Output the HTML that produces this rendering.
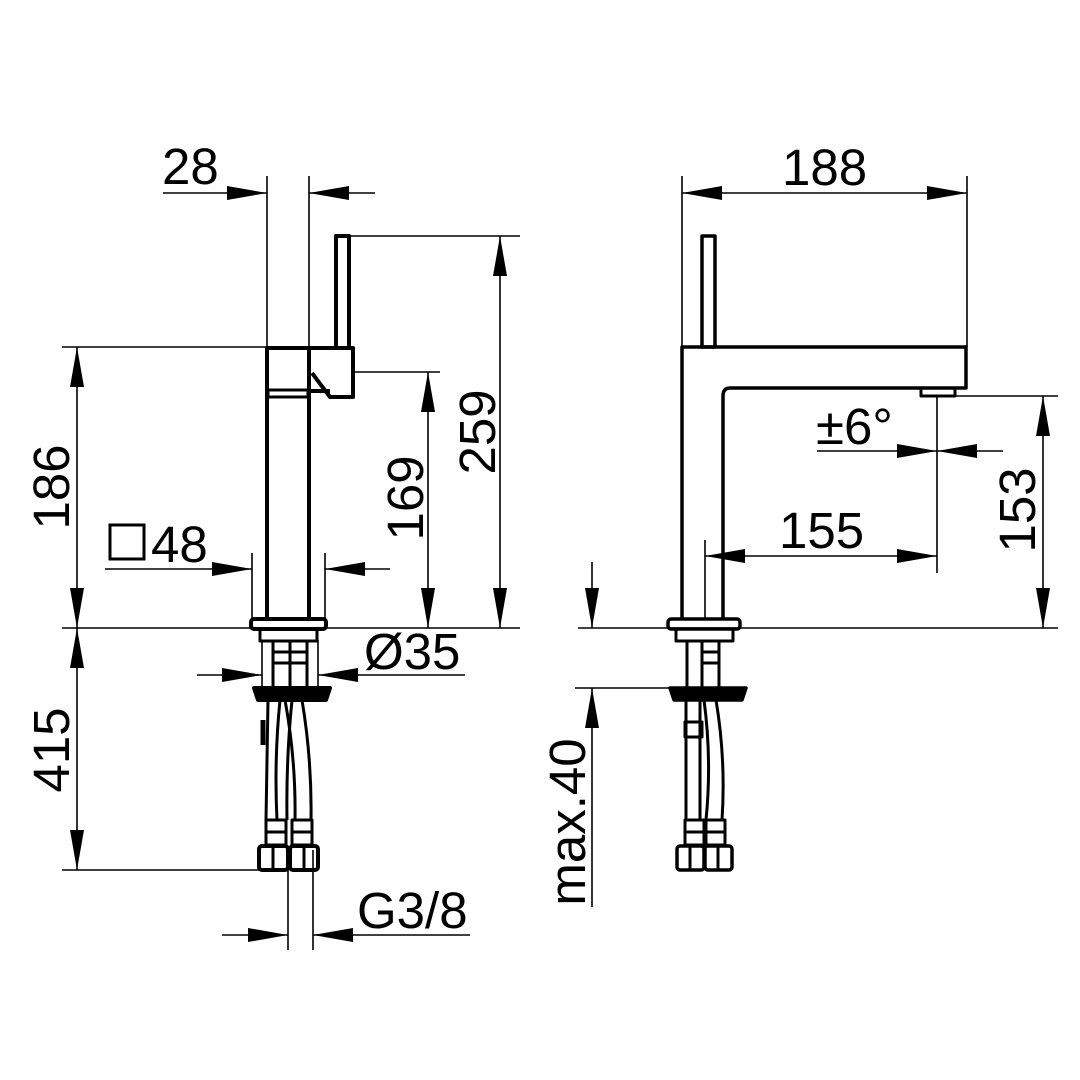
<!DOCTYPE html>
<html><head><meta charset="utf-8"><style>
html,body{margin:0;padding:0;background:#fff}
svg{display:block}
text{font-family:"Liberation Sans",Arial,sans-serif;font-size:51px;fill:#000}
</style></head><body>
<svg width="1080" height="1080" viewBox="0 0 1080 1080" xmlns="http://www.w3.org/2000/svg">
<defs>
<marker id="a" markerUnits="userSpaceOnUse" markerWidth="40" markerHeight="14" refX="40" refY="7" orient="auto">
<path d="M0,0 L40,7 L0,14 z" fill="#000"/>
</marker>
</defs>
<g stroke="#000" stroke-width="1.6" fill="none">
<line x1="267" y1="176" x2="267" y2="347"/>
<line x1="309" y1="176" x2="309" y2="347"/>
<line x1="163" y1="193" x2="267" y2="193" marker-end="url(#a)"/>
<line x1="375" y1="193" x2="309" y2="193" marker-end="url(#a)"/>
<line x1="350" y1="236" x2="520" y2="236"/>
<line x1="500" y1="432" x2="500" y2="236" marker-end="url(#a)"/>
<line x1="500" y1="432" x2="500" y2="628" marker-end="url(#a)"/>
<line x1="62" y1="347" x2="267" y2="347"/>
<line x1="77" y1="487" x2="77" y2="347" marker-end="url(#a)"/>
<line x1="77" y1="487" x2="77" y2="628" marker-end="url(#a)"/>
<line x1="353" y1="372" x2="440" y2="372"/>
<line x1="428" y1="500" x2="428" y2="372" marker-end="url(#a)"/>
<line x1="428" y1="500" x2="428" y2="628" marker-end="url(#a)"/>
<line x1="252" y1="553" x2="252" y2="620"/>
<line x1="325" y1="553" x2="325" y2="620"/>
<line x1="105" y1="569" x2="252" y2="569" marker-end="url(#a)"/>
<line x1="390" y1="569" x2="325" y2="569" marker-end="url(#a)"/>
<line x1="62" y1="628" x2="520" y2="628"/>
<line x1="262" y1="640" x2="262" y2="690"/>
<line x1="318" y1="640" x2="318" y2="690"/>
<line x1="197" y1="675" x2="262" y2="675" marker-end="url(#a)"/>
<line x1="465" y1="675" x2="318" y2="675" marker-end="url(#a)"/>
<line x1="77" y1="750" x2="77" y2="628" marker-end="url(#a)"/>
<line x1="77" y1="750" x2="77" y2="870" marker-end="url(#a)"/>
<line x1="62" y1="870" x2="262" y2="870"/>
<line x1="288" y1="850" x2="288" y2="950"/>
<line x1="313" y1="850" x2="313" y2="950"/>
<line x1="222" y1="935" x2="288" y2="935" marker-end="url(#a)"/>
<line x1="470" y1="935" x2="313" y2="935" marker-end="url(#a)"/>
<line x1="682" y1="176" x2="682" y2="347"/>
<line x1="967" y1="176" x2="967" y2="347"/>
<line x1="825" y1="193" x2="682" y2="193" marker-end="url(#a)"/>
<line x1="825" y1="193" x2="967" y2="193" marker-end="url(#a)"/>
<line x1="955" y1="396" x2="1058" y2="396"/>
<line x1="1043" y1="510" x2="1043" y2="396" marker-end="url(#a)"/>
<line x1="1043" y1="510" x2="1043" y2="628" marker-end="url(#a)"/>
<line x1="937" y1="396" x2="937" y2="573"/>
<line x1="817" y1="451" x2="937" y2="451" marker-end="url(#a)"/>
<line x1="1003" y1="451" x2="937" y2="451" marker-end="url(#a)"/>
<line x1="705" y1="540" x2="705" y2="620"/>
<line x1="820" y1="556" x2="705" y2="556" marker-end="url(#a)"/>
<line x1="820" y1="556" x2="937" y2="556" marker-end="url(#a)"/>
<line x1="578" y1="628" x2="1058" y2="628"/>
<line x1="575" y1="688" x2="672" y2="688"/>
<line x1="592" y1="562" x2="592" y2="628" marker-end="url(#a)"/>
<line x1="592" y1="907" x2="592" y2="688" marker-end="url(#a)"/>
</g>

<g stroke="#000" stroke-width="4" fill="none" stroke-linejoin="round">
<rect x="336" y="236" width="13" height="112"/>
<line x1="267" y1="347" x2="267" y2="620"/>
<line x1="309" y1="347" x2="309" y2="620"/>
<line x1="267" y1="348" x2="353" y2="348"/>
<path d="M310,348 L353,348 L353,397 L330,397 L312,373"/>
<line x1="310" y1="391" x2="330" y2="391"/>
<rect x="268" y="390" width="40" height="7" stroke-width="3"/>
<rect x="251" y="619" width="75" height="10" rx="3"/>
<rect x="260" y="629" width="57" height="12" stroke-width="3"/>
<line x1="273" y1="641" x2="273" y2="688" stroke-width="3"/>
<line x1="290" y1="641" x2="290" y2="688" stroke-width="3"/>
<line x1="307" y1="641" x2="307" y2="688" stroke-width="3"/>
<line x1="273" y1="652" x2="307" y2="652" stroke-width="3"/>
<line x1="273" y1="663" x2="307" y2="663" stroke-width="3"/>
<path d="M254,688 L330,688 L326,700 L258,700 Z" fill="#000"/>
<path d="M268,700 L266,820 M280,700 Q274,760 277,820 M285,700 Q296,760 295,820 M292,700 Q286,760 287,820 M302,700 Q312,760 311,820" stroke-width="3"/>
<path d="M263,720 L263,745" stroke-width="5"/>
<rect x="266" y="820" width="20" height="25" stroke-width="3"/>
<rect x="292" y="820" width="20" height="25" stroke-width="3"/>
<line x1="266" y1="832" x2="286" y2="832" stroke-width="3"/>
<line x1="292" y1="832" x2="312" y2="832" stroke-width="3"/>
<rect x="259" y="846" width="29" height="24" rx="3"/>
<rect x="290" y="846" width="28" height="24" rx="3"/>
<line x1="273" y1="846" x2="273" y2="870" stroke-width="3"/>
<line x1="304" y1="846" x2="304" y2="870" stroke-width="3"/>
</g>

<g stroke="#000" stroke-width="3.5" fill="none" stroke-linejoin="round">
<rect x="702" y="236" width="13" height="111"/>
<path d="M682,620 L682,347 L966,347 L966,388 L730,388 Q723,388 723,396 L723,620"/>
<rect x="921" y="388" width="34" height="8" stroke-width="3"/>
<rect x="668" y="619" width="72" height="10" rx="3"/>
<rect x="676" y="629" width="57" height="12" stroke-width="3"/>
<line x1="687" y1="641" x2="687" y2="688" stroke-width="3"/>
<line x1="702" y1="641" x2="702" y2="688" stroke-width="3"/>
<line x1="719" y1="641" x2="719" y2="688" stroke-width="3"/>
<line x1="702" y1="652" x2="719" y2="652" stroke-width="3"/>
<line x1="702" y1="663" x2="719" y2="663" stroke-width="3"/>
<path d="M670,688 L746,688 L742,700 L674,700 Z" fill="#000"/>
<rect x="685" y="722" width="17" height="15" stroke-width="3"/>
<path d="M686,700 L686,820 M700,700 L700,820 M704,700 Q712,760 706,820 M716,700 Q726,760 722,820" stroke-width="3"/>
<rect x="685" y="820" width="19" height="25" stroke-width="3"/>
<rect x="706" y="820" width="19" height="25" stroke-width="3"/>
<line x1="685" y1="832" x2="704" y2="832" stroke-width="3"/>
<line x1="706" y1="832" x2="725" y2="832" stroke-width="3"/>
<rect x="677" y="846" width="27" height="24" rx="3"/>
<rect x="705" y="846" width="27" height="24" rx="3"/>
<line x1="690" y1="846" x2="690" y2="870" stroke-width="3"/>
<line x1="718" y1="846" x2="718" y2="870" stroke-width="3"/>
</g>

<text x="162" y="184">28</text>
<text x="782" y="185">188</text>
<text transform="translate(495,432) rotate(-90)" text-anchor="middle">259</text>
<text transform="translate(69,487) rotate(-90)" text-anchor="middle">186</text>
<text transform="translate(423,498) rotate(-90)" text-anchor="middle">169</text>
<text transform="translate(69,750) rotate(-90)" text-anchor="middle">415</text>
<text transform="translate(1035,510) rotate(-90)" text-anchor="middle">153</text>
<text transform="translate(585,822) rotate(-90)" text-anchor="middle">max.40</text>
<rect x="110" y="525" width="34" height="34" fill="none" stroke="#000" stroke-width="3"/>
<text x="151" y="562">48</text>
<text x="364" y="669">Ø35</text>
<text x="357" y="928">G3/8</text>
<text x="816" y="444">±6°</text>
<text x="779" y="548">155</text>
</svg>
</body></html>
